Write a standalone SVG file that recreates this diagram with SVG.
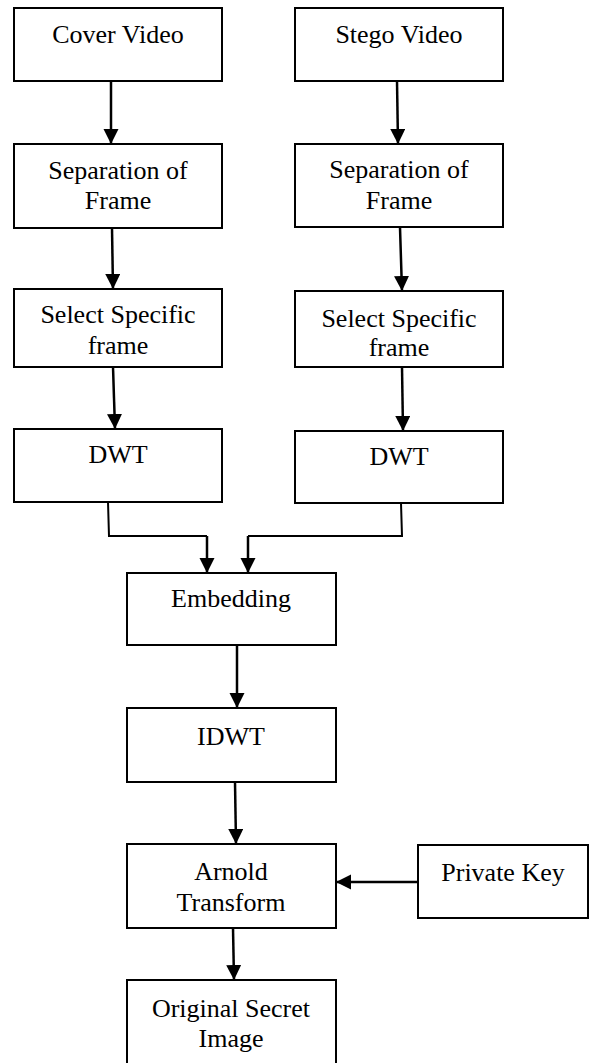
<svg xmlns="http://www.w3.org/2000/svg" width="592" height="1063" viewBox="0 0 592 1063">
<style>
  .box { fill: #ffffff; stroke: #000000; stroke-width: 2; }
  .lbl { font-family: "Liberation Serif", "Times New Roman", serif; font-size: 26px; fill: #000000; text-anchor: middle; }
  .conn { fill: none; stroke: #000000; stroke-width: 2.5; }
  .thin { fill: none; stroke: #000000; stroke-width: 2; }
</style>
<defs>
  <marker id="arrow" markerUnits="userSpaceOnUse" markerWidth="16" markerHeight="16" viewBox="0 0 16 16" refX="15" refY="7.5" orient="auto">
    <path d="M0,0 L15,7.5 L0,15 Z" fill="#000000"/>
  </marker>
</defs>
<rect width="592" height="1063" fill="#ffffff"/>

<g id="connectors">
  <line class="conn" x1="111" y1="81" x2="111" y2="144" marker-end="url(#arrow)"/>
  <line class="conn" x1="112" y1="228" x2="113" y2="289" marker-end="url(#arrow)"/>
  <line class="conn" x1="113" y1="367" x2="115" y2="429" marker-end="url(#arrow)"/>
  <line class="conn" x1="397" y1="81" x2="398" y2="144" marker-end="url(#arrow)"/>
  <line class="conn" x1="400" y1="227" x2="402" y2="291" marker-end="url(#arrow)"/>
  <line class="conn" x1="402" y1="367" x2="403" y2="431" marker-end="url(#arrow)"/>
  <polyline class="thin" points="108,502 109,536 207,536"/>
  <line class="conn" x1="207" y1="536" x2="207" y2="573" marker-end="url(#arrow)"/>
  <polyline class="thin" points="401,503 402,536 248,536"/>
  <line class="conn" x1="248" y1="536" x2="248" y2="573" marker-end="url(#arrow)"/>
  <line class="conn" x1="237" y1="645" x2="237" y2="708" marker-end="url(#arrow)"/>
  <line class="conn" x1="235" y1="782" x2="236" y2="844" marker-end="url(#arrow)"/>
  <line class="conn" x1="233" y1="928" x2="234" y2="980" marker-end="url(#arrow)"/>
  <line class="conn" x1="418" y1="882" x2="336" y2="882" marker-end="url(#arrow)"/>
</g>

<g id="cover-video">
  <rect class="box" x="14" y="8" width="208" height="73"/>
  <text class="lbl" x="118" y="43">Cover Video</text>
</g>
<g id="stego-video">
  <rect class="box" x="295" y="8" width="208" height="73"/>
  <text class="lbl" x="399" y="43">Stego Video</text>
</g>
<g id="separation-left">
  <rect class="box" x="14" y="144" width="208" height="84"/>
  <text class="lbl" x="118" y="179">Separation of</text>
  <text class="lbl" x="118" y="209">Frame</text>
</g>
<g id="separation-right">
  <rect class="box" x="295" y="144" width="208" height="83"/>
  <text class="lbl" x="399" y="178">Separation of</text>
  <text class="lbl" x="399" y="209">Frame</text>
</g>
<g id="select-left">
  <rect class="box" x="14" y="289" width="208" height="78"/>
  <text class="lbl" x="118" y="323">Select Specific</text>
  <text class="lbl" x="118" y="354">frame</text>
</g>
<g id="select-right">
  <rect class="box" x="295" y="291" width="208" height="76"/>
  <text class="lbl" x="399" y="327">Select Specific</text>
  <text class="lbl" x="399" y="356">frame</text>
</g>
<g id="dwt-left">
  <rect class="box" x="14" y="429" width="208" height="73"/>
  <text class="lbl" x="118" y="463">DWT</text>
</g>
<g id="dwt-right">
  <rect class="box" x="295" y="431" width="208" height="72"/>
  <text class="lbl" x="399" y="465">DWT</text>
</g>
<g id="embedding">
  <rect class="box" x="127" y="573" width="209" height="72"/>
  <text class="lbl" x="231" y="607">Embedding</text>
</g>
<g id="idwt">
  <rect class="box" x="127" y="708" width="209" height="74"/>
  <text class="lbl" x="231" y="745">IDWT</text>
</g>
<g id="arnold">
  <rect class="box" x="127" y="844" width="209" height="84"/>
  <text class="lbl" x="231" y="880">Arnold</text>
  <text class="lbl" x="231" y="911">Transform</text>
</g>
<g id="private-key">
  <rect class="box" x="418" y="845" width="170" height="73"/>
  <text class="lbl" x="503" y="881">Private Key</text>
</g>
<g id="original-secret-image">
  <rect class="box" x="127" y="980" width="209" height="100"/>
  <text class="lbl" x="231" y="1017">Original Secret</text>
  <text class="lbl" x="231" y="1047">Image</text>
</g>
</svg>
